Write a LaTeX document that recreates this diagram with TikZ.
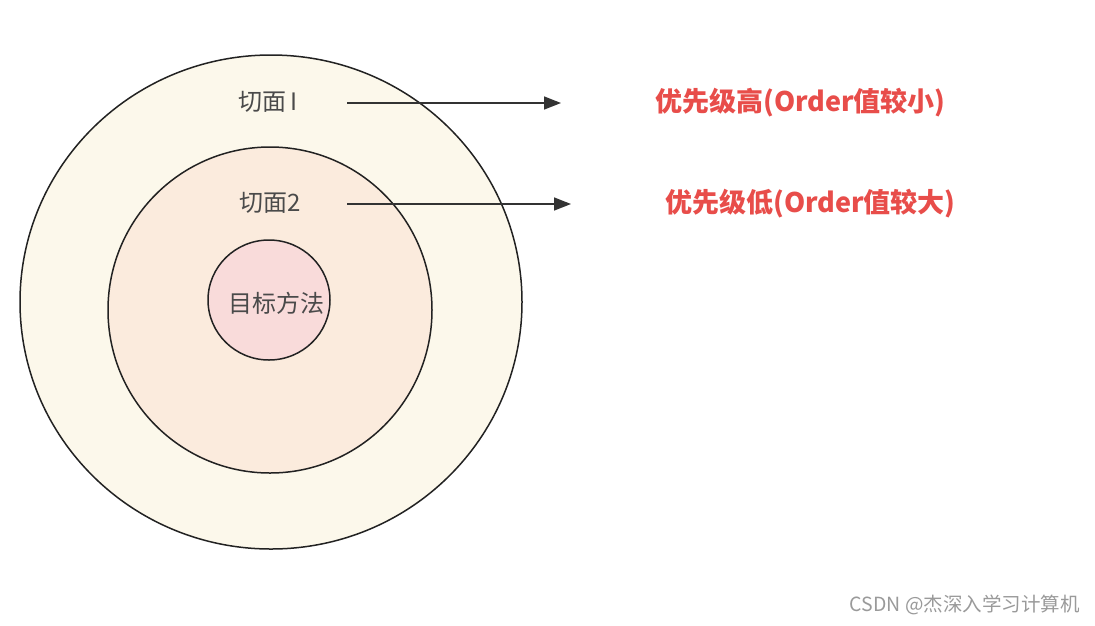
\documentclass[tikz,border=0pt]{standalone}
\usepackage{fontspec}
\setmainfont{Noto Sans CJK SC}
\usetikzlibrary{arrows.meta}
\definecolor{edgec}{HTML}{222222}
\definecolor{arrc}{HTML}{333333}
\definecolor{outerfill}{HTML}{FCF8EB}
\definecolor{midfill}{HTML}{FBEBDD}
\definecolor{innerfill}{HTML}{F9DBDA}
\definecolor{redtxt}{HTML}{E84D4A}
\definecolor{graytxt}{HTML}{4A4A4A}
\definecolor{wmk}{HTML}{9A9A9A}
\tikzset{
  ring/.style={draw=edgec, line width=1.5pt},
  lbl/.style={text=graytxt, font=\fontsize{24}{28}\selectfont, inner sep=0pt},
  redlbl/.style={text=redtxt, font=\fontsize{27}{31}\selectfont\bfseries, inner sep=0pt, anchor=west},
  arr/.style={draw=arrc, line width=1.5pt, -{Triangle[length=17pt,width=13pt]}}
}
\begin{document}
\begin{tikzpicture}[x=1pt,y=-1pt]
\useasboundingbox (0,0) rectangle (1095,625);
\fill[white] (0,0) rectangle (1095,625);
\draw[ring, fill=outerfill] (271,302) ellipse [x radius=251, y radius=247];
\draw[ring, fill=midfill] (270,310) ellipse [x radius=162, y radius=163];
\draw[ring, fill=innerfill] (269,300) ellipse [x radius=61, y radius=60];
\node[lbl] (l1) at (268,102) {切面\,I};
\node[lbl] (l2) at (270,203) {切面2};
\node[lbl] (l3) at (276,303) {目标方法};
\coordinate (a1s) at (347,103);
\coordinate (a2s) at (347,204);
\node[redlbl] (r1) at (655,103) {优先级高(Order值较小)};
\node[redlbl] (r2) at (665,204) {优先级低(Order值较大)};
\coordinate (a1e) at (561,103);
\coordinate (a2e) at (571,204);
\draw[arr] (a1s) -- (a1e);
\draw[arr] (a2s) -- (a2e);
\node[text=wmk, font=\fontsize{19.5}{23}\selectfont, inner sep=0pt, anchor=east] (wm) at (1080,605) {CSDN @杰深入学习计算机};
\end{tikzpicture}
\end{document}
